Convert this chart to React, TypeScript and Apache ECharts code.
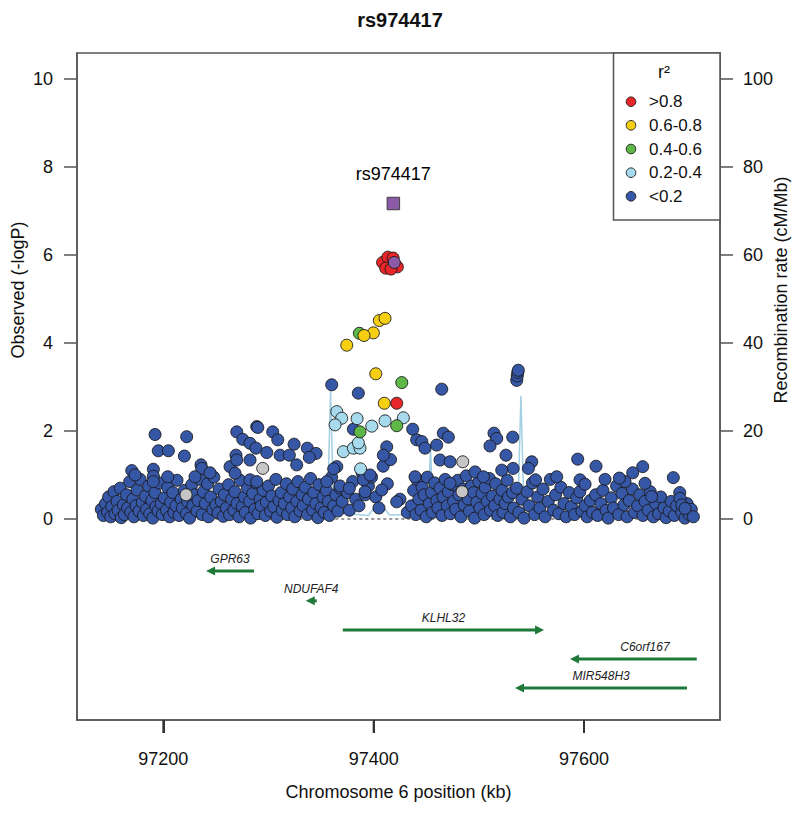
import React, { useEffect, useRef } from "react";
import * as echarts from "echarts";

const TITLE = "rs974417";
const X_NAME = "Chromosome 6 position (kb)";
const Y_NAME = "Observed (-logP)";
const Y2_NAME = "Recombination rate (cM/Mb)";
const X_TICKS = [97200, 97400, 97600];
const Y_TICKS = [0, 2, 4, 6, 8, 10];
const RECOMB_TICKS = [0, 20, 40, 60, 80, 100];
const LEGEND_TITLE = "r\u00B2";
const LEGEND_LABELS = [">0.8", "0.6-0.8", "0.4-0.6", "0.2-0.4", "<0.2"];
const LD_COLORS = ["#E8262A", "#F6CF12", "#5DB847", "#A6DAEC", "#3656A6"];
const INDEX_COLOR = "#8C5BA7";
const NA_COLOR = "#C6C6C6";
const GENE_COLOR = "#1F7A3A";
const RECOMB_COLOR = "#A3CFE3";

// index SNP (square) and its circle
const INDEX_SNP = [[97418.7, 7.17]];
const INDEX_CIRCLE = [[97419.6, 5.83]];

const RED_PTS = [
  [97408.5, 5.83], [97413.5, 5.95], [97418.5, 5.93], [97422.5, 5.73], [97411.5, 5.7], [97416.5, 5.68],
  [97421.9, 2.63],
];
const YELLOW_PTS = [
  [97405.4, 4.51], [97410.8, 4.56], [97399.7, 4.23], [97390.8, 4.17], [97374.4, 3.95],
  [97402, 3.3], [97410.1, 2.63],
];
const GREEN_PTS = [
  [97386.4, 4.22], [97426.7, 3.1], [97387, 1.98], [97421.9, 2.12],
];
const LIGHTBLUE_PTS = [
  [97364.9, 2.44], [97369.6, 2.29], [97363.3, 2.14], [97384.2, 2.28], [97398.2, 2.11], [97410.8, 2.23],
  [97428.2, 2.3], [97371.2, 1.53], [97380.7, 1.61], [97387, 1.61], [97385.4, 1.73], [97387.5, 1.14],
];
const NA_PTS = [
  [97294.5, 1.15], [97221.6, 0.55], [97484.7, 1.3], [97484, 0.62],
];
const BLUE_HIGH = [
  [97360.1, 3.05], [97385.4, 2.86], [97192.1, 1.92], [97222.2, 1.87], [97195.2, 1.55], [97204.8, 1.55],
  [97220, 1.43], [97170, 1.1], [97173.1, 1.0], [97190.5, 1.13], [97190.5, 0.97], [97190.5, 0.85],
  [97204.2, 0.96], [97235.8, 1.23], [97236.5, 1.15], [97244.4, 1.05], [97230.1, 0.96], [97269.8, 1.98],
  [97275.5, 1.81], [97288.8, 2.1], [97289.8, 2.08], [97304, 1.98], [97308.8, 1.8], [97282.4, 1.72],
  [97288.1, 1.61], [97298.3, 1.51], [97282.4, 1.34], [97324.3, 1.7], [97311, 1.45], [97319.8, 1.45],
  [97336.9, 1.61], [97345.2, 1.49], [97338.8, 1.4], [97326.8, 1.23], [97269.1, 1.45], [97263.4, 1.19],
  [97269.8, 1.34], [97268.2, 1.04], [97282.4, 0.89], [97288.8, 0.85], [97364.9, 1.19], [97362, 1.14],
  [97355.4, 0.85], [97368, 0.75], [97376.9, 0.7], [97390.2, 0.89], [97380.7, 2.04],
  [97464.7, 2.95], [97437.1, 2.04], [97440.9, 1.8], [97445.7, 1.76], [97448.8, 1.61], [97459.9, 1.68],
  [97466.2, 1.95], [97471, 1.86], [97514.4, 1.95], [97517, 1.83], [97510.6, 1.66], [97532.2, 1.86],
  [97525.8, 1.45], [97550.3, 1.3], [97547.1, 1.15], [97532.6, 1.15], [97594, 1.36], [97611.4, 1.2],
  [97620, 0.9], [97596.2, 0.89], [97601, 0.79], [97655.8, 1.19], [97646.3, 1.05], [97639, 0.85],
  [97633.6, 0.93], [97684.9, 0.94], [97658, 0.81], [97664.3, 0.51], [97691.3, 0.47], [97693, 0.32],
  [97696, 0.24], [97574, 0.96], [97553.9, 0.89], [97463.1, 1.34], [97472.6, 1.3], [97439.3, 0.96],
  [97412.4, 1.64], [97409.2, 1.45], [97421.9, 0.39], [97396.6, 1.0], [97391.8, 0.62], [97407.7, 0.66],
  [97496.4, 1.07], [97504.3, 0.96], [97521.8, 1.11], [97472.6, 0.81],
  [97536, 3.15], [97536.5, 3.25], [97537, 3.33], [97537.5, 3.38],
];
const BLUE_LOW = [
  [97141, 0.22], [97143, 0.08], [97145, 0.35], [97147, 0.15], [97148, 0.5], [97150, 0.05], [97151, 0.28],
  [97153, 0.62], [97154, 0.12], [97156, 0.4], [97157, 0.2], [97159, 0.7], [97160, 0.03], [97162, 0.32],
  [97163, 0.1], [97165, 0.55], [97166, 0.25], [97168, 0.85], [97169, 0.15], [97171, 0.45], [97172, 0.05],
  [97174, 0.3], [97175, 0.66], [97177, 0.18], [97178, 0.9], [97180, 0.38], [97181, 0.08], [97183, 0.52],
  [97184, 0.22], [97186, 0.75], [97187, 0.12], [97189, 0.42], [97190, 0.02], [97192, 0.6], [97193, 0.28],
  [97195, 0.18], [97196, 0.82], [97198, 0.35], [97199, 0.1],
  [97201, 0.48], [97203, 0.2], [97204, 0.72], [97206, 0.05], [97207, 0.38], [97209, 0.6], [97210, 0.15],
  [97212, 0.3], [97213, 0.88], [97215, 0.08], [97217, 0.45], [97218, 0.25], [97220, 0.65], [97222, 0.12],
  [97223, 0.4], [97225, 0.02], [97227, 0.78], [97228, 0.3], [97230, 0.55], [97232, 0.18], [97233, 0.42],
  [97235, 0.9], [97237, 0.1], [97238, 0.62], [97240, 0.35], [97242, 0.8], [97243, 0.05], [97245, 0.5],
  [97247, 0.22], [97248, 0.95], [97250, 0.32], [97252, 0.14], [97253, 0.68], [97255, 0.4], [97257, 0.06],
  [97258, 0.55], [97260, 0.25],
  [97262, 0.78], [97263, 0.1], [97265, 0.45], [97267, 0.2], [97268, 0.62], [97270, 0.35], [97272, 0.05],
  [97273, 0.88], [97275, 0.28], [97277, 0.5], [97278, 0.15], [97280, 0.7], [97282, 0.4], [97283, 0.02],
  [97285, 0.58], [97287, 0.22], [97288, 0.82], [97290, 0.12], [97292, 0.45], [97293, 0.3], [97295, 0.65],
  [97297, 0.08], [97298, 0.38], [97300, 0.75], [97302, 0.18], [97303, 0.52], [97305, 0.28], [97307, 0.9],
  [97308, 0.04], [97310, 0.42], [97312, 0.6], [97313, 0.2], [97315, 0.35], [97317, 0.8], [97318, 0.1],
  [97320, 0.5],
  [97322, 0.25], [97323, 0.68], [97325, 0.05], [97327, 0.4], [97328, 0.85], [97330, 0.18], [97332, 0.55],
  [97333, 0.3], [97335, 0.72], [97337, 0.1], [97338, 0.45], [97340, 0.92], [97342, 0.2], [97343, 0.6],
  [97345, 0.35], [97347, 0.03], [97348, 0.78], [97350, 0.25], [97352, 0.5], [97353, 0.15], [97355, 0.65],
  [97357, 0.4], [97358, 0.08], [97360, 0.95], [97362, 0.3], [97364, 0.55], [97366, 0.18], [97368, 0.7],
  [97370, 0.4],
  [97375, 0.6], [97377, 0.2], [97380, 0.85], [97383, 0.45], [97386, 0.3], [97389, 1.05], [97392, 0.55],
  [97395, 0.75], [97398, 0.95], [97402, 0.5], [97405, 0.25], [97409, 1.2], [97413, 0.8], [97416, 1.35],
  [97425, 0.45], [97432, 0.15],
  [97436, 0.3], [97438, 0.65], [97440, 0.1], [97441, 0.9], [97443, 0.45], [97445, 0.2], [97446, 0.72],
  [97448, 0.55], [97450, 0.05], [97451, 0.95], [97453, 0.35], [97455, 0.6], [97456, 0.15], [97458, 0.82],
  [97460, 0.42], [97461, 0.25], [97463, 0.7], [97465, 0.08], [97466, 0.5], [97468, 0.9], [97470, 0.3],
  [97471, 0.62], [97473, 0.12], [97475, 0.78], [97476, 0.4], [97478, 0.22], [97480, 0.88], [97481, 0.55],
  [97483, 0.05], [97485, 0.68], [97486, 0.32], [97488, 0.98], [97490, 0.45], [97491, 0.18], [97493, 0.75],
  [97495, 0.6], [97496, 0.02], [97498, 0.38], [97500, 0.85], [97501, 0.25], [97503, 0.58], [97505, 0.1],
  [97506, 0.72], [97508, 0.4], [97510, 0.92], [97511, 0.2], [97513, 0.52], [97515, 0.3], [97516, 0.8],
  [97518, 0.08], [97520, 0.45], [97522, 0.65], [97523, 0.15], [97525, 0.35], [97527, 0.88], [97528, 0.5],
  [97530, 0.05], [97532, 0.6], [97533, 0.25],
  [97536, 0.7], [97538, 0.15], [97541, 0.45], [97543, 0.02], [97546, 0.62], [97548, 0.3], [97551, 0.82],
  [97553, 0.1], [97556, 0.5], [97558, 0.25], [97561, 0.68], [97563, 0.05], [97566, 0.4], [97568, 0.9],
  [97571, 0.2], [97573, 0.55], [97576, 0.12], [97578, 0.72], [97581, 0.35], [97583, 0.05], [97586, 0.6],
  [97588, 0.28], [97591, 0.1], [97593, 0.48], [97596, 0.62], [97598, 0.18], [97601, 0.3], [97603, 0.05],
  [97606, 0.42], [97608, 0.15], [97611, 0.55], [97613, 0.08], [97616, 0.35], [97618, 0.65], [97621, 0.2],
  [97623, 0.02], [97626, 0.48], [97628, 0.25], [97631, 0.75], [97633, 0.1], [97636, 0.58], [97638, 0.32],
  [97641, 0.05], [97643, 0.42], [97646, 0.68], [97648, 0.15], [97651, 0.3], [97653, 0.55], [97656, 0.08],
  [97658, 0.4], [97661, 0.2], [97663, 0.62], [97666, 0.05], [97668, 0.35], [97671, 0.12], [97673, 0.5],
  [97676, 0.25], [97678, 0.03], [97681, 0.18], [97683, 0.4], [97686, 0.08], [97688, 0.3], [97691, 0.6],
  [97693, 0.15], [97696, 0.02], [97698, 0.35], [97700, 0.1], [97702, 0.22], [97704, 0.05],
];

const RECOMB_POS = [97141, 97180, 97230, 97290, 97340, 97356, 97359, 97362, 97395, 97405, 97415, 97440, 97452, 97454, 97456, 97490, 97520, 97537, 97540, 97543, 97600, 97650, 97707];
const RECOMB_RATE = [0.3, 0.5, 0.4, 0.6, 0.8, 1.2, 29, 1.5, 0.8, 4, 0.9, 1.0, 1.2, 17, 1.0, 0.6, 0.5, 1.0, 28, 0.9, 0.5, 0.3, 0.2];
const BASELINE_RANGE = [97141, 97707];

const GENE_NAMES = ["GPR63", "NDUFAF4", "KLHL32", "C6orf167", "MIR548H3"];
const GENE_START = [97240.6, 97335.4, 97370.6, 97586.7, 97534.4];
const GENE_END = [97286.2, 97345.9, 97562.0, 97707.2, 97697.9];
const GENE_STRAND = [-1, -1, 1, -1, -1];
const GENE_ROW = [-1.18, -1.86, -2.52, -3.18, -3.84];
const GENE_LABEL_AT = [97263.4, 97340.6, 97466.3, 97657.9, 97616.2];

const X_MIN = 97117.9;
const X_MAX = 97729.3;
const Y_MIN = -4.568;
const Y_MAX = 10.59;

const FONT = '"Liberation Sans", Arial, Helvetica, sans-serif';
const AXIS_COLOR = "#555";

export default function App() {
  const ref = useRef<HTMLDivElement>(null);
  useEffect(() => {
    if (!ref.current) return;
    const chart = echarts.init(ref.current, null, { renderer: "svg" });

    const dot = (name: string, data: number[][], color: string, z: number) => ({
      type: "scatter",
      name,
      data,
      symbol: "circle",
      symbolSize: 12,
      z,
      itemStyle: { color, borderColor: "#1a1a1a", borderWidth: 0.9, opacity: 1 },
      emphasis: { disabled: true },
    });

    const geneData = GENE_NAMES.map((n, i) => ({
      name: n,
      value: [GENE_START[i], GENE_END[i], GENE_ROW[i], GENE_STRAND[i], GENE_LABEL_AT[i]],
    }));

    const legendY = [101.7, 125.3, 149, 172.7, 196.3];
    const graphic: any[] = [
      {
        id: "legend-box",
        type: "rect",
        shape: { x: 613.5, y: 53, width: 106.5, height: 167 },
        style: { fill: "#fff", stroke: AXIS_COLOR, lineWidth: 1.5 },
        z: 100,
      },
      {
        id: "legend-title",
        type: "text",
        x: 664,
        y: 72,
        style: { text: LEGEND_TITLE, font: `18px ${FONT}`, fill: "#111", align: "center", verticalAlign: "middle" },
        z: 101,
      },
      {
        id: "yname",
        type: "text",
        x: 18,
        y: 290,
        rotation: Math.PI / 2,
        style: { text: Y_NAME, font: `18px ${FONT}`, fill: "#111", align: "center", verticalAlign: "middle" },
      },
      {
        id: "y2name",
        type: "text",
        x: 781,
        y: 290,
        rotation: Math.PI / 2,
        style: { text: Y2_NAME, font: `18px ${FONT}`, fill: "#111", align: "center", verticalAlign: "middle" },
      },
    ];
    LEGEND_LABELS.forEach((lab, i) => {
      graphic.push({
        id: "lg-dot-" + i,
        type: "circle",
        shape: { cx: 631, cy: legendY[i], r: 4.8 },
        style: { fill: LD_COLORS[i], stroke: "#1a1a1a", lineWidth: 0.9 },
        z: 101,
      });
      graphic.push({
        id: "lg-txt-" + i,
        type: "text",
        x: 649,
        y: legendY[i],
        style: { text: lab, font: `17px ${FONT}`, fill: "#111", align: "left", verticalAlign: "middle" },
        z: 101,
      });
    });

    const tickStyle = { color: AXIS_COLOR, width: 1.5 };
    const lineStyle = { color: AXIS_COLOR, width: 1.5 };

    chart.setOption({
      animation: false,
      textStyle: { fontFamily: FONT },
      title: {
        text: TITLE,
        left: "center",
        top: 5,
        textStyle: { fontSize: 20, fontWeight: "bold", color: "#111", fontFamily: FONT },
      },
      grid: {
        left: 77,
        right: 80,
        top: 53,
        bottom: 93,
        show: true,
        borderColor: AXIS_COLOR,
        borderWidth: 1.5,
        backgroundColor: "transparent",
      },
      xAxis: {
        type: "value",
        min: X_MIN,
        max: X_MAX,
        position: "bottom",
        name: X_NAME,
        nameLocation: "middle",
        nameGap: 63,
        nameTextStyle: { fontSize: 18, color: "#111", fontFamily: FONT },
        axisLine: { show: true, onZero: false, lineStyle },
        splitLine: { show: false },
        axisTick: { show: true, inside: false, length: 13, customValues: X_TICKS, lineStyle: { color: "#333", width: 2 } },
        axisLabel: {
          show: true,
          customValues: X_TICKS,
          margin: 30,
          fontSize: 18,
          color: "#111",
          fontFamily: FONT,
          formatter: (v: number) => String(v),
        },
      },
      yAxis: [
        {
          type: "value",
          min: Y_MIN,
          max: Y_MAX,
          position: "left",
          axisLine: { show: true, onZero: false, lineStyle },
          splitLine: { show: false },
          axisTick: { show: true, inside: false, length: 13, customValues: Y_TICKS, lineStyle: tickStyle },
          axisLabel: { show: true, customValues: Y_TICKS, margin: 24, fontSize: 18, color: "#111", fontFamily: FONT, formatter: (v: number) => String(v) },
        },
        {
          type: "value",
          min: Y_MIN * 10,
          max: Y_MAX * 10,
          position: "right",
          axisLine: { show: true, onZero: false, lineStyle },
          splitLine: { show: false },
          axisTick: { show: true, inside: false, length: 13, customValues: RECOMB_TICKS, lineStyle: tickStyle },
          axisLabel: { show: true, customValues: RECOMB_TICKS, margin: 23, fontSize: 18, color: "#111", fontFamily: FONT, formatter: (v: number) => String(v) },
        },
      ],
      graphic,
      series: [
        {
          type: "line",
          name: "baseline",
          data: BASELINE_RANGE.map((x) => [x, 0]),
          showSymbol: false,
          symbol: "none",
          z: 1,
          lineStyle: { color: "#333", width: 1, type: [3, 3] },
          silent: true,
        },
        {
          type: "line",
          name: "Recombination rate",
          yAxisIndex: 1,
          data: RECOMB_POS.map((x, i) => [x, RECOMB_RATE[i]]),
          showSymbol: false,
          symbol: "none",
          z: 1,
          lineStyle: { color: RECOMB_COLOR, width: 1.5 },
          silent: true,
        },
        dot(LEGEND_LABELS[4], [...BLUE_LOW, ...BLUE_HIGH], LD_COLORS[4], 2),
        dot("NA", NA_PTS, NA_COLOR, 3),
        dot(LEGEND_LABELS[3], LIGHTBLUE_PTS, LD_COLORS[3], 4),
        dot(LEGEND_LABELS[2], GREEN_PTS, LD_COLORS[2], 5),
        dot(LEGEND_LABELS[1], YELLOW_PTS, LD_COLORS[1], 6),
        dot(LEGEND_LABELS[0], RED_PTS, LD_COLORS[0], 7),
        dot("index circle", INDEX_CIRCLE, INDEX_COLOR, 8),
        {
          type: "scatter",
          name: TITLE,
          data: INDEX_SNP,
          symbol: "rect",
          symbolSize: 12.5,
          z: 9,
          itemStyle: { color: INDEX_COLOR, borderColor: "#333", borderWidth: 0.9, opacity: 1 },
          emphasis: { disabled: true },
          label: {
            show: true,
            position: "top",
            distance: 14,
            formatter: TITLE,
            fontSize: 18,
            color: "#000",
            opacity: 1,
            fontFamily: FONT,
          },
        },
        {
          // x-axis tick marks hanging below the frame
          type: "scatter",
          name: "x ticks",
          data: X_TICKS.map((v) => [v, Y_MIN]),
          symbol: "rect",
          symbolSize: [2, 13],
          symbolOffset: [0, 6.5],
          clip: false,
          silent: true,
          z: 20,
          itemStyle: { color: "#333", opacity: 1, borderWidth: 0 },
          emphasis: { disabled: true },
        },
        {
          type: "custom",
          name: "genes",
          data: geneData,
          z: 5,
          clip: false,
          renderItem: (params: any, api: any) => {
            const s = api.value(0);
            const e = api.value(1);
            const row = api.value(2);
            const strand = api.value(3);
            const lp = api.value(4);
            const p1 = api.coord([s, row]);
            const p2 = api.coord([e, row]);
            const pl = api.coord([lp, row]);
            const y = p1[1];
            const headLen = 9;
            const headW = 4.5;
            const tipX = strand < 0 ? p1[0] : p2[0];
            const dir = strand < 0 ? 1 : -1;
            const lx1 = strand < 0 ? p1[0] + headLen - 1 : p1[0];
            const lx2 = strand < 0 ? p2[0] : p2[0] - headLen + 1;
            return {
              type: "group",
              children: [
                {
                  type: "line",
                  shape: { x1: lx1, y1: y, x2: Math.max(lx1, lx2), y2: y },
                  style: { stroke: GENE_COLOR, lineWidth: 3 },
                },
                {
                  type: "polygon",
                  shape: { points: [[tipX, y], [tipX + dir * headLen, y - headW], [tipX + dir * headLen, y + headW]] },
                  style: { fill: GENE_COLOR },
                },
                {
                  type: "text",
                  x: pl[0],
                  y: y - 12,
                  style: {
                    text: GENE_NAMES[params.dataIndex],
                    font: `italic 12px ${FONT}`,
                    fill: "#222",
                    align: "center",
                    verticalAlign: "middle",
                  },
                },
              ],
            };
          },
        },
      ],
    });

    return () => chart.dispose();
  }, []);

  return (
    <div
      ref={ref}
      style={{ position: "absolute", left: 0, top: 0, width: 800, height: 813, background: "#fff" }}
    />
  );
}
